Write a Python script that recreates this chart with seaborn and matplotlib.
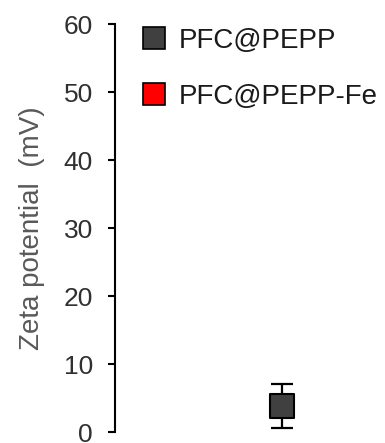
import numpy as np
import pandas as pd
import matplotlib
matplotlib.use("Agg")
import matplotlib.pyplot as plt
import seaborn as sns
from matplotlib.lines import Line2D

samples = ["PFC@PEPP", "PFC@PEPP-Fe"]
zeta_mean = [3.8, np.nan]
zeta_err = [3.2, np.nan]
colors = ["#404040", "#ff0000"]
yticks = [0, 10, 20, 30, 40, 50, 60]

sns.set_theme(style="white")
plt.rcParams['font.family'] = ['Liberation Sans', 'DejaVu Sans']

df = pd.DataFrame({"sample": samples, "x": [0, 0], "zeta": zeta_mean, "err": zeta_err})

fig = plt.figure(figsize=(3.85, 4.43), dpi=100)
ax = fig.add_axes([0.299, 0.0248, 0.70, 0.921])

d = df.dropna()
ax.errorbar(d["x"], d["zeta"], yerr=d["err"], fmt="none", ecolor="black",
            elinewidth=1.6, capsize=8, capthick=1.6, zorder=2)
sns.scatterplot(data=d, x="x", y="zeta", hue="sample", palette=dict(zip(samples, colors)),
                marker="s", s=300, edgecolor="black", linewidth=1.5, ax=ax,
                legend=False, zorder=3)

ax.set_xlim(-1.24, 0.76)
ax.set_ylim(0, 60)
ax.set_yticks(yticks)
ax.set_xticks([])
ax.set_xlabel("")
ax.set_ylabel("Zeta potential  (mV)", fontsize=20, color="#595959", labelpad=13)
ax.tick_params(axis="y", labelsize=19, length=5, width=1.5, color="black",
               direction="out", left=True, pad=11)
for t in ax.get_yticklabels():
    t.set_color("#303030")
for s in ["top", "right", "bottom"]:
    ax.spines[s].set_visible(False)
ax.spines["left"].set_linewidth(1.5)
ax.spines["left"].set_color("black")
ax.patch.set_alpha(0)

handles = [Line2D([0], [0], marker="s", linestyle="none", markersize=16,
                  markerfacecolor=c, markeredgecolor="black", markeredgewidth=1.2)
           for c in colors]
leg = ax.legend(handles, samples, loc="upper left", bbox_to_anchor=(0.093, 0.990),
                frameon=False, fontsize=20, handletextpad=0.4, labelspacing=1.07,
                handlelength=1.0, borderpad=0, borderaxespad=0)
for t in leg.get_texts():
    t.set_color("#1a1a1a")

fig.savefig("out.png", dpi=100)
